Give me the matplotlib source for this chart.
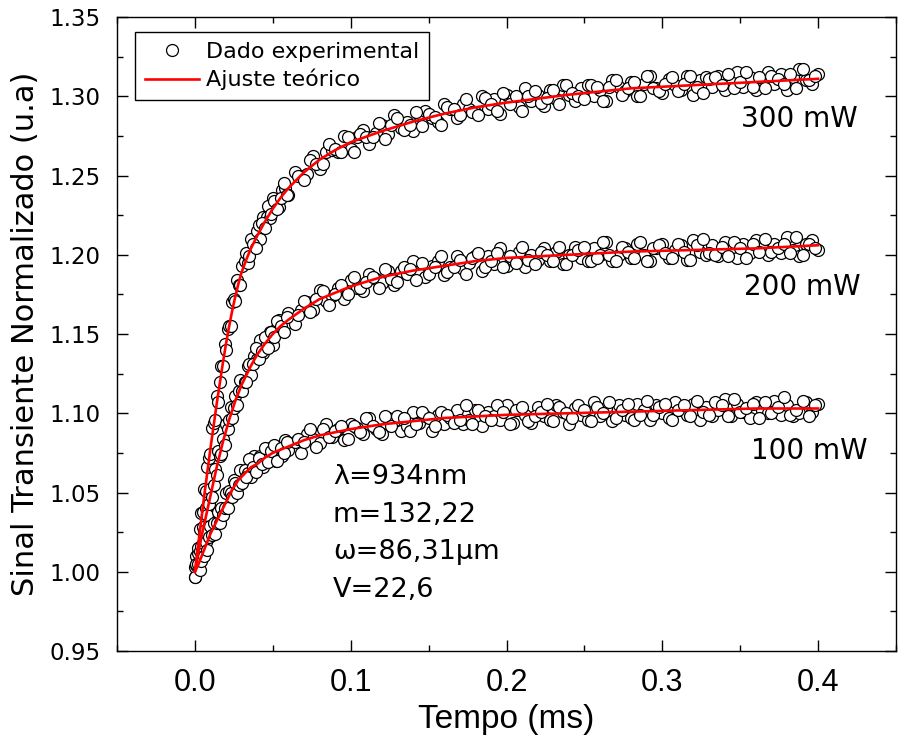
import numpy as np
import matplotlib
matplotlib.use('Agg')
import matplotlib.pyplot as plt
from matplotlib import font_manager


# time grid of the measured points (ms): first pass, then the in-between samples
t_data = np.concatenate([np.arange(31) * 0.001,
                         0.032 + np.arange(15) * 0.002,
                         0.064 + np.arange(85) * 0.004,
                         0.033 + np.arange(14) * 0.002,
                         0.066 + np.arange(84) * 0.004])

# experimental points (same order as t_data)
signal_300 = [0.997, 1.010, 1.012, 1.027, 1.037, 1.038, 1.052, 1.051, 1.066, 1.072,
              1.074, 1.091, 1.094, 1.096, 1.111, 1.107, 1.120, 1.130, 1.130, 1.144,
              1.140, 1.153, 1.155, 1.155, 1.170, 1.172, 1.171, 1.184, 1.181, 1.181,
              1.193,
              1.196, 1.195, 1.210, 1.206, 1.215, 1.210, 1.224, 1.224, 1.223, 1.236,
              1.231, 1.230, 1.241, 1.242, 1.238,
              1.252, 1.250, 1.251, 1.262, 1.254, 1.265, 1.266, 1.265, 1.275, 1.267,
              1.274, 1.279, 1.270, 1.277, 1.282, 1.276, 1.288, 1.280, 1.284, 1.278,
              1.288, 1.291, 1.286, 1.284, 1.295, 1.292, 1.286, 1.295, 1.292, 1.290,
              1.300, 1.292, 1.298, 1.289, 1.301, 1.298, 1.293, 1.305, 1.297, 1.301,
              1.294, 1.304, 1.298, 1.307, 1.301, 1.297, 1.305, 1.307, 1.300, 1.304,
              1.297, 1.310, 1.306, 1.303, 1.309, 1.300, 1.308, 1.313, 1.305, 1.302,
              1.311, 1.307, 1.304, 1.313, 1.301, 1.310, 1.312, 1.306, 1.313, 1.304,
              1.310, 1.315, 1.306, 1.312, 1.304, 1.310, 1.315, 1.308, 1.314, 1.304,
              1.312, 1.317, 1.310, 1.308, 1.314,
              1.201, 1.199, 1.207, 1.204, 1.219, 1.220, 1.217, 1.231, 1.226, 1.234,
              1.229, 1.236, 1.245, 1.238,
              1.250, 1.247, 1.260, 1.257, 1.257, 1.270, 1.267, 1.265, 1.274, 1.265,
              1.276, 1.274, 1.274, 1.283, 1.273, 1.282, 1.286, 1.279, 1.282, 1.290,
              1.281, 1.289, 1.287, 1.282, 1.293, 1.292, 1.288, 1.298, 1.290, 1.288,
              1.299, 1.295, 1.291, 1.302, 1.295, 1.300, 1.291, 1.300, 1.303, 1.296,
              1.299, 1.304, 1.295, 1.307, 1.302, 1.300, 1.298, 1.307, 1.306, 1.297,
              1.306, 1.310, 1.301, 1.305, 1.309, 1.300, 1.313, 1.305, 1.303, 1.308,
              1.312, 1.303, 1.308, 1.313, 1.306, 1.302, 1.311, 1.312, 1.307, 1.314,
              1.305, 1.309, 1.315, 1.306, 1.312, 1.305, 1.313, 1.311, 1.308, 1.314,
              1.305, 1.317, 1.310, 1.313]

signal_200 = [1.003, 1.004, 1.015, 1.013, 1.016, 1.028, 1.026, 1.040, 1.036, 1.043,
              1.052, 1.047, 1.055, 1.065, 1.061, 1.076, 1.073, 1.074, 1.084, 1.080,
              1.093, 1.090, 1.096, 1.104, 1.097, 1.103, 1.111, 1.105, 1.114, 1.121,
              1.114,
              1.120, 1.130, 1.124, 1.136, 1.134, 1.146, 1.138, 1.144, 1.151, 1.143,
              1.153, 1.159, 1.152, 1.156, 1.163,
              1.156, 1.165, 1.170, 1.165, 1.178, 1.171, 1.174, 1.179, 1.172, 1.184,
              1.179, 1.177, 1.188, 1.185, 1.182, 1.190, 1.181, 1.190, 1.188, 1.196,
              1.188, 1.186, 1.193, 1.196, 1.187, 1.192, 1.199, 1.191, 1.195, 1.199,
              1.190, 1.199, 1.194, 1.204, 1.193, 1.197, 1.202, 1.192, 1.200, 1.197,
              1.204, 1.196, 1.202, 1.194, 1.200, 1.205, 1.198, 1.196, 1.204, 1.200,
              1.208, 1.196, 1.200, 1.204, 1.198, 1.207, 1.200, 1.196, 1.204, 1.207,
              1.198, 1.203, 1.206, 1.197, 1.209, 1.202, 1.200, 1.206, 1.199, 1.208,
              1.203, 1.198, 1.207, 1.201, 1.209, 1.204, 1.200, 1.207, 1.201, 1.211,
              1.203, 1.199, 1.207, 1.209, 1.203,
              1.120, 1.131, 1.131, 1.141, 1.134, 1.139, 1.148, 1.141, 1.151, 1.148,
              1.158, 1.155, 1.151, 1.161,
              1.162, 1.171, 1.164, 1.172, 1.177, 1.168, 1.175, 1.181, 1.175, 1.186,
              1.179, 1.183, 1.186, 1.179, 1.191, 1.185, 1.183, 1.192, 1.191, 1.184,
              1.195, 1.188, 1.192, 1.199, 1.189, 1.192, 1.197, 1.188, 1.198, 1.201,
              1.192, 1.196, 1.201, 1.192, 1.199, 1.195, 1.205, 1.197, 1.194, 1.202,
              1.200, 1.196, 1.205, 1.194, 1.200, 1.203, 1.205, 1.196, 1.198, 1.208,
              1.200, 1.196, 1.205, 1.202, 1.198, 1.208, 1.196, 1.204, 1.206, 1.201,
              1.198, 1.207, 1.202, 1.197, 1.206, 1.210, 1.201, 1.200, 1.205, 1.199,
              1.208, 1.204, 1.198, 1.207, 1.202, 1.210, 1.202, 1.204, 1.207, 1.201,
              1.211, 1.200, 1.207, 1.204]

signal_100 = [0.997, 1.005, 1.005, 1.001, 1.007, 1.018, 1.010, 1.019, 1.014, 1.022,
              1.029, 1.023, 1.031, 1.024, 1.031, 1.038, 1.031, 1.040, 1.036, 1.040,
              1.050, 1.040, 1.051, 1.050, 1.047, 1.058, 1.056, 1.050, 1.055, 1.064,
              1.056,
              1.064, 1.062, 1.060, 1.073, 1.067, 1.073, 1.066, 1.069, 1.078, 1.075,
              1.070, 1.079, 1.073, 1.083, 1.077,
              1.082, 1.075, 1.087, 1.084, 1.081, 1.093, 1.085, 1.090, 1.083, 1.093,
              1.091, 1.087, 1.097, 1.090, 1.087, 1.097, 1.095, 1.089, 1.092, 1.101,
              1.094, 1.098, 1.089, 1.099, 1.093, 1.097, 1.102, 1.093, 1.096, 1.102,
              1.092, 1.101, 1.098, 1.096, 1.105, 1.094, 1.102, 1.099, 1.094, 1.104,
              1.098, 1.096, 1.105, 1.101, 1.093, 1.103, 1.099, 1.096, 1.107, 1.098,
              1.103, 1.095, 1.105, 1.099, 1.097, 1.106, 1.102, 1.096, 1.105, 1.100,
              1.097, 1.107, 1.102, 1.099, 1.106, 1.096, 1.104, 1.098, 1.102, 1.109,
              1.098, 1.106, 1.101, 1.097, 1.107, 1.102, 1.100, 1.108, 1.099, 1.105,
              1.098, 1.100, 1.107, 1.101, 1.106,
              1.060, 1.071, 1.066, 1.063, 1.072, 1.068, 1.078, 1.069, 1.076, 1.080,
              1.070, 1.078, 1.075, 1.082,
              1.084, 1.082, 1.090, 1.079, 1.090, 1.085, 1.089, 1.092, 1.084, 1.092,
              1.088, 1.097, 1.092, 1.088, 1.098, 1.092, 1.098, 1.097, 1.089, 1.093,
              1.101, 1.097, 1.092, 1.101, 1.099, 1.094, 1.096, 1.105, 1.093, 1.102,
              1.098, 1.096, 1.105, 1.101, 1.093, 1.102, 1.104, 1.095, 1.098, 1.101,
              1.106, 1.095, 1.104, 1.100, 1.097, 1.105, 1.102, 1.095, 1.104, 1.100,
              1.107, 1.097, 1.102, 1.106, 1.096, 1.099, 1.108, 1.099, 1.104, 1.106,
              1.096, 1.102, 1.105, 1.098, 1.108, 1.101, 1.099, 1.107, 1.105, 1.098,
              1.109, 1.101, 1.103, 1.106, 1.097, 1.107, 1.100, 1.104, 1.110, 1.099,
              1.102, 1.108, 1.098, 1.105]

# fitted curves, sampled off the red lines
t_fit = [0.000, 0.002, 0.004, 0.006, 0.008, 0.010, 0.012, 0.014, 0.016, 0.018,
         0.020, 0.022, 0.024, 0.026, 0.028, 0.030, 0.033, 0.036, 0.040, 0.045,
         0.050, 0.055, 0.060, 0.070, 0.080, 0.090, 0.100, 0.120, 0.140, 0.160,
         0.180, 0.200, 0.240, 0.280, 0.320, 0.360, 0.400]
fit_300 = [1.000, 1.016, 1.032, 1.048, 1.063, 1.078, 1.092, 1.106, 1.119, 1.132,
           1.144, 1.155, 1.165, 1.174, 1.182, 1.189, 1.197, 1.204, 1.212, 1.221,
           1.229, 1.236, 1.242, 1.252, 1.260, 1.266, 1.271, 1.278, 1.284, 1.289,
           1.293, 1.296, 1.301, 1.305, 1.307, 1.309, 1.311]
fit_200 = [1.000, 1.011, 1.021, 1.030, 1.039, 1.048, 1.057, 1.066, 1.074, 1.082,
           1.089, 1.096, 1.102, 1.108, 1.113, 1.118, 1.124, 1.130, 1.137, 1.144,
           1.150, 1.155, 1.159, 1.166, 1.172, 1.176, 1.180, 1.186, 1.190, 1.193,
           1.196, 1.198, 1.200, 1.202, 1.203, 1.204, 1.206]
fit_100 = [1.000, 1.004, 1.009, 1.014, 1.019, 1.024, 1.028, 1.032, 1.036, 1.040,
           1.044, 1.048, 1.052, 1.055, 1.058, 1.060, 1.063, 1.066, 1.068, 1.072,
           1.075, 1.077, 1.079, 1.083, 1.086, 1.088, 1.090, 1.093, 1.095, 1.097,
           1.098, 1.099, 1.100, 1.101, 1.102, 1.103, 1.103]

power_labels = ['300 mW', '200 mW', '100 mW']
params_text = ['\u03bb=934nm', 'm=132,22', '\u03c9=86,31\u00b5m', 'V=22,6']

xticks = [0.0, 0.1, 0.2, 0.3, 0.4]
yticks = [0.95, 1.00, 1.05, 1.10, 1.15, 1.20, 1.25, 1.30, 1.35]


def has_font(name):
    try:
        font_manager.findfont(name, fallback_to_default=False)
        return True
    except ValueError:
        return False


narrow = 'Liberation Sans Narrow' if has_font('Liberation Sans Narrow') else 'Liberation Sans'

plt.rcParams['font.family'] = 'DejaVu Sans'

fig = plt.figure(figsize=(8.98, 7.44), dpi=100)
ax = fig.add_axes([117 / 898, 1 - 651 / 744, 779 / 898, 634 / 744])

# experimental points
for sig in [signal_300, signal_200, signal_100]:
    ax.plot(t_data, sig, 'o', ms=8.6, mfc='white', mec='black', mew=0.9,
            zorder=2, label='Dado experimental' if sig is signal_300 else None)

# fits
for fit in [fit_300, fit_200, fit_100]:
    ax.plot(t_fit, fit, '-', color='#ff0000', lw=1.9, zorder=3,
            label='Ajuste te\u00f3rico' if fit is fit_300 else None)

ax.set_xlim(-0.05, 0.45)
ax.set_ylim(0.95, 1.35)

ax.set_xticks(xticks)
ax.set_xticklabels(['%.1f' % v for v in xticks], fontfamily=narrow, fontsize=22)
ax.set_yticks(yticks)
ax.set_yticklabels(['%.2f' % v for v in yticks], fontsize=16.5)
ax.set_xticks(np.arange(-0.05, 0.451, 0.05), minor=True)
ax.set_yticks(np.arange(0.95, 1.351, 0.025), minor=True)

ax.tick_params(which='both', direction='in', top=True, right=True, width=1.0)
ax.tick_params(which='major', length=8)
ax.tick_params(which='minor', length=4.5)
ax.tick_params(axis='x', pad=12)
ax.tick_params(axis='y', pad=12)
for sp in ax.spines.values():
    sp.set_linewidth(1.0)

ax.set_xlabel('Tempo (ms)', fontfamily=narrow, fontsize=24)
ax.xaxis.set_label_coords(0.5, -0.083)
ax.set_ylabel('Sinal Transiente Normalizado (u.a)', fontsize=22)
ax.yaxis.set_label_coords(-0.099, 0.5)

# power labels at the right end of each curve
label_pos = [(0.3506, 1.2804), (0.3526, 1.1747), (0.357, 1.0709)]
for txt, (x, y) in zip(power_labels, label_pos):
    ax.text(x, y, txt, fontsize=20, ha='left', va='baseline')

# fit parameters
param_y = [1.0554, 1.0316, 1.0079, 0.9842]
for txt, y in zip(params_text, param_y):
    ax.text(0.0885, y, txt, fontsize=19.5, ha='left', va='baseline')

leg = ax.legend(loc='upper left', bbox_to_anchor=(0.0231, 0.976), borderaxespad=0,
                fontsize=16, frameon=True, fancybox=False, edgecolor='black',
                framealpha=1, borderpad=0.45, labelspacing=0.3, handlelength=2.45,
                handletextpad=0.3, numpoints=1)
leg.get_frame().set_linewidth(1.0)

fig.savefig('out.png', dpi=100)
